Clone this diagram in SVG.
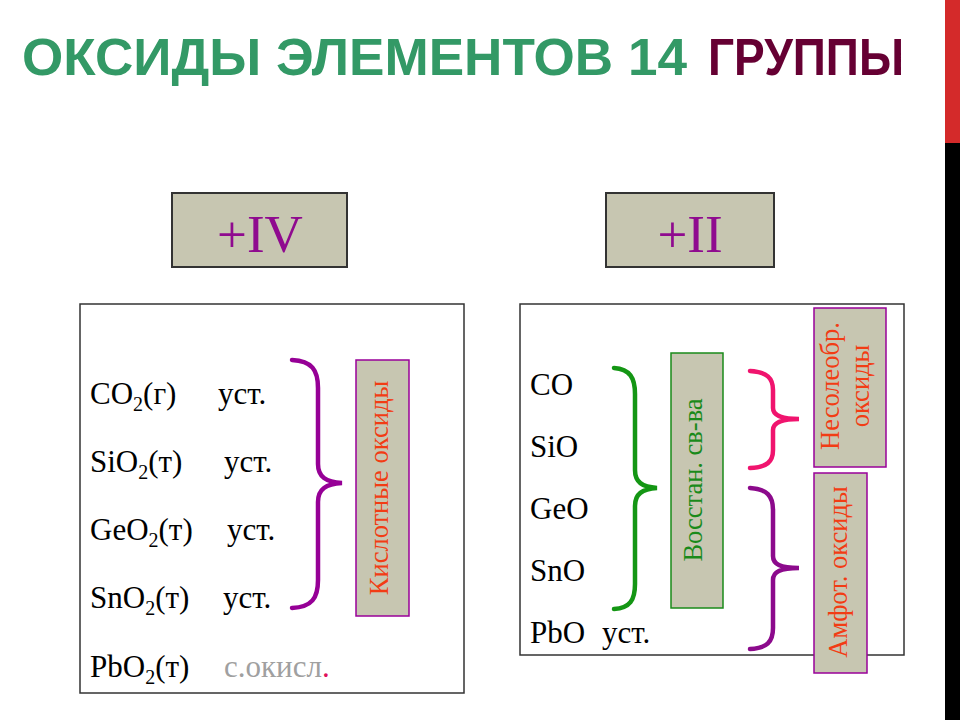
<svg xmlns="http://www.w3.org/2000/svg" width="960" height="720" viewBox="0 0 960 720">
<style>
.title{font-family:"Liberation Sans",Arial,sans-serif;font-weight:bold;font-size:51px}
.t{font-family:"Liberation Serif","Times New Roman",serif;font-size:31px}
.ox{font-family:"Liberation Serif","Times New Roman",serif;font-size:53px;fill:#8f0a8f;text-anchor:middle}
.lbl{font-family:"Liberation Serif","Times New Roman",serif;font-size:26.5px;text-anchor:middle}
.red{fill:#f23c14}
.grn{fill:#1a8a1a}
.gray{fill:#a0a0a0}
.tag{fill:#c7c6b1}
.frame{fill:#fff;stroke:#333;stroke-width:1.5}
.brace{fill:none;stroke-width:4.5;stroke-linecap:round}
</style>
<rect x="0" y="0" width="960" height="720" fill="#fff"/>
<rect x="945" y="0" width="15" height="143" fill="#d42a2a"/>
<rect x="945" y="143" width="15" height="577" fill="#000"/>

<g id="title">
<text class="title" x="22" y="75" fill="#339966" textLength="665" lengthAdjust="spacingAndGlyphs">ОКСИДЫ ЭЛЕМЕНТОВ 14</text>
<text class="title" x="708" y="75" fill="#660033" textLength="196" lengthAdjust="spacingAndGlyphs">ГРУППЫ</text>
</g>

<g id="node-iv">
<rect x="172" y="193" width="175" height="74" class="tag" stroke="#333" stroke-width="2"/>
<text class="ox" x="260" y="252">+IV</text>
</g>
<g id="node-ii">
<rect x="606" y="193" width="168" height="74" class="tag" stroke="#333" stroke-width="2"/>
<text class="ox" x="690" y="252">+II</text>
</g>

<g id="box-left">
<rect x="80" y="304" width="384" height="389" class="frame"/>
<text class="t" x="90" y="404">CO<tspan font-size="20" dy="7">2</tspan><tspan dy="-7">(г)</tspan></text>
<text class="t" x="218" y="404">уст.</text>
<text class="t" x="90" y="472">SiO<tspan font-size="20" dy="7">2</tspan><tspan dy="-7">(т)</tspan></text>
<text class="t" x="224" y="472">уст.</text>
<text class="t" x="90" y="540">GeO<tspan font-size="20" dy="7">2</tspan><tspan dy="-7">(т)</tspan></text>
<text class="t" x="227" y="540">уст.</text>
<text class="t" x="90" y="608">SnO<tspan font-size="20" dy="7">2</tspan><tspan dy="-7">(т)</tspan></text>
<text class="t" x="223" y="608">уст.</text>
<text class="t" x="90" y="677">PbO<tspan font-size="20" dy="7">2</tspan><tspan dy="-7">(т)</tspan></text>
<text class="t gray" x="224" y="677">с.окисл<tspan style="fill:#e0105a">.</tspan></text>
</g>

<g id="box-right">
<rect x="520" y="304" width="384" height="351" class="frame"/>
<text class="t" x="530" y="395">CO</text>
<text class="t" x="530" y="457">SiO</text>
<text class="t" x="530" y="519">GeO</text>
<text class="t" x="530" y="581">SnO</text>
<text class="t" x="530" y="643">PbO</text>
<text class="t" x="602" y="643">уст.</text>
</g>

<g id="node-acid">
<rect x="356" y="360" width="53" height="256" class="tag" stroke="#990099" stroke-width="1.5"/>
<text class="lbl red" transform="translate(388,488) rotate(-90)">Кислотные оксиды</text>
</g>
<g id="node-reduct">
<rect x="671" y="353" width="52" height="255" class="tag" stroke="#1a8a1a" stroke-width="1.5"/>
<text class="lbl grn" transform="translate(702,480) rotate(-90)">Восстан. св-ва</text>
</g>
<g id="node-nonsalt">
<rect x="814" y="308" width="72" height="159" class="tag" stroke="#990099" stroke-width="1.5"/>
<text class="lbl red" transform="translate(839,386) rotate(-90)">Несолеобр.</text>
<text class="lbl red" transform="translate(869,386) rotate(-90)">оксиды</text>
</g>
<g id="node-amphot">
<rect x="814" y="473" width="53" height="200" class="tag" stroke="#990099" stroke-width="1.5"/>
<text class="lbl red" transform="translate(847,572) rotate(-90)">Амфот. оксиды</text>
</g>

<g id="connectors">
<path class="brace" stroke="#960096" d="M292,360 C312,361 318,370 318,388 L318,464 C318,477 326,482 342,483 C326,484 318,489 318,502 L318,580 C318,598 312,607 292,608"/>
<path class="brace" stroke="#149614" d="M614,368 C630,369 635,378 635,394 L635,470 C635,482 642,487 657,488 C642,489 635,494 635,506 L635,584 C635,600 630,608 614,609"/>
<path class="brace" stroke="#f0146e" d="M750,371 C767,372 773,378 773,390 L773,408 C773,415 780,419 799,419 C780,419 773,423 773,430 L773,450 C773,462 767,467 750,468"/>
<path class="brace" stroke="#8c0a8c" d="M750,488 C767,489 773,496 773,510 L773,556 C773,564 780,568 799,568 C780,568 773,572 773,580 L773,628 C773,642 767,648 750,649"/>
</g>
</svg>
